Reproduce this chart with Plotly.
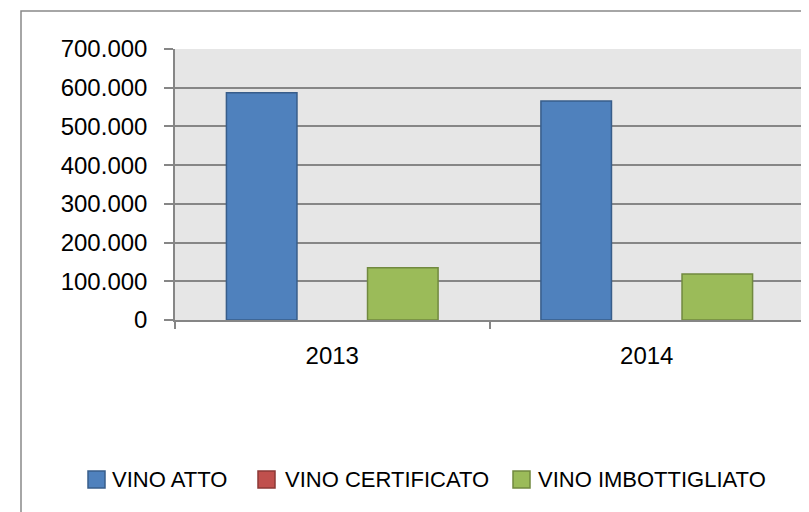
import plotly.graph_objects as go

years = ["2013", "2014"]
series_names = ["VINO ATTO", "VINO CERTIFICATO", "VINO IMBOTTIGLIATO"]
vino_atto = [587000, 566000]
vino_certificato = [0, 0]
vino_imbottigliato = [135000, 119000]
y_ticks = [0, 100000, 200000, 300000, 400000, 500000, 600000, 700000]

FONT = "Liberation Sans, Arial, sans-serif"
fills = ["#4F81BD", "#C0504D", "#9BBB59"]
edges = ["#385D8A", "#8C3836", "#71893F"]

# plot area in page pixels (page has an 8px body margin)
PL, PR, PT, PB = 175, 804, 49, 320


def px(x):
    return (x - PL) / (PR - PL)


def py(y):
    return (PB - y) / (PB - PT)


fig = go.Figure()
for name, vals, c, e in zip(series_names, [vino_atto, vino_certificato, vino_imbottigliato], fills, edges):
    lw = 1.5 if max(vals) > 0 else 0
    fig.add_trace(go.Bar(name=name, x=years, y=vals,
                         marker=dict(color=c, line=dict(color=e, width=lw))))

shapes = [dict(type="rect", xref="paper", yref="paper", x0=px(21), x1=1.2, y0=-1.5, y1=py(11),
               line=dict(color="#898989", width=1.5), fillcolor="rgba(0,0,0,0)", layer="below")]
annotations = []
sq_x = [88, 258, 513]
txt_x = [111, 284, 537]
for i, name in enumerate(series_names):
    shapes.append(dict(type="rect", xref="paper", yref="paper",
                       x0=px(sq_x[i]), x1=px(sq_x[i] + 17), y0=py(488), y1=py(471),
                       line=dict(color=edges[i], width=1.5), fillcolor=fills[i]))
    annotations.append(dict(text=name, xref="paper", yref="paper", x=px(txt_x[i]), y=py(479.5),
                            xanchor="left", yanchor="middle", showarrow=False,
                            font=dict(family=FONT, size=22, color="#000000"),
                            borderpad=0))

fig.update_layout(
    width=809, height=512,
    margin=dict(l=PL - 8, r=809 + 8 - PR, t=PT - 8, b=512 + 8 - PB),
    paper_bgcolor="white",
    plot_bgcolor="#E6E6E6",
    separators=",.",
    barmode="group",
    bargap=0.327,
    bargroupgap=0,
    font=dict(family=FONT, size=24, color="#000000"),
    showlegend=False,
    xaxis=dict(type="category", showgrid=False, showline=True, linecolor="#868686", linewidth=2,
               ticks="outside", tickson="boundaries", ticklen=7, tickcolor="#868686", tickwidth=1.5,
               ticklabelstandoff=13),
    yaxis=dict(range=[0, 700000], tickvals=y_ticks, tickformat=",d",
               showgrid=True, gridcolor="#868686", gridwidth=2,
               showline=True, linecolor="#868686", linewidth=1.5,
               ticks="outside", ticklen=9, tickcolor="#868686", tickwidth=1.5,
               zeroline=False, ticklabelstandoff=12),
    shapes=shapes,
    annotations=annotations,
)

fig.write_html("out.html")
